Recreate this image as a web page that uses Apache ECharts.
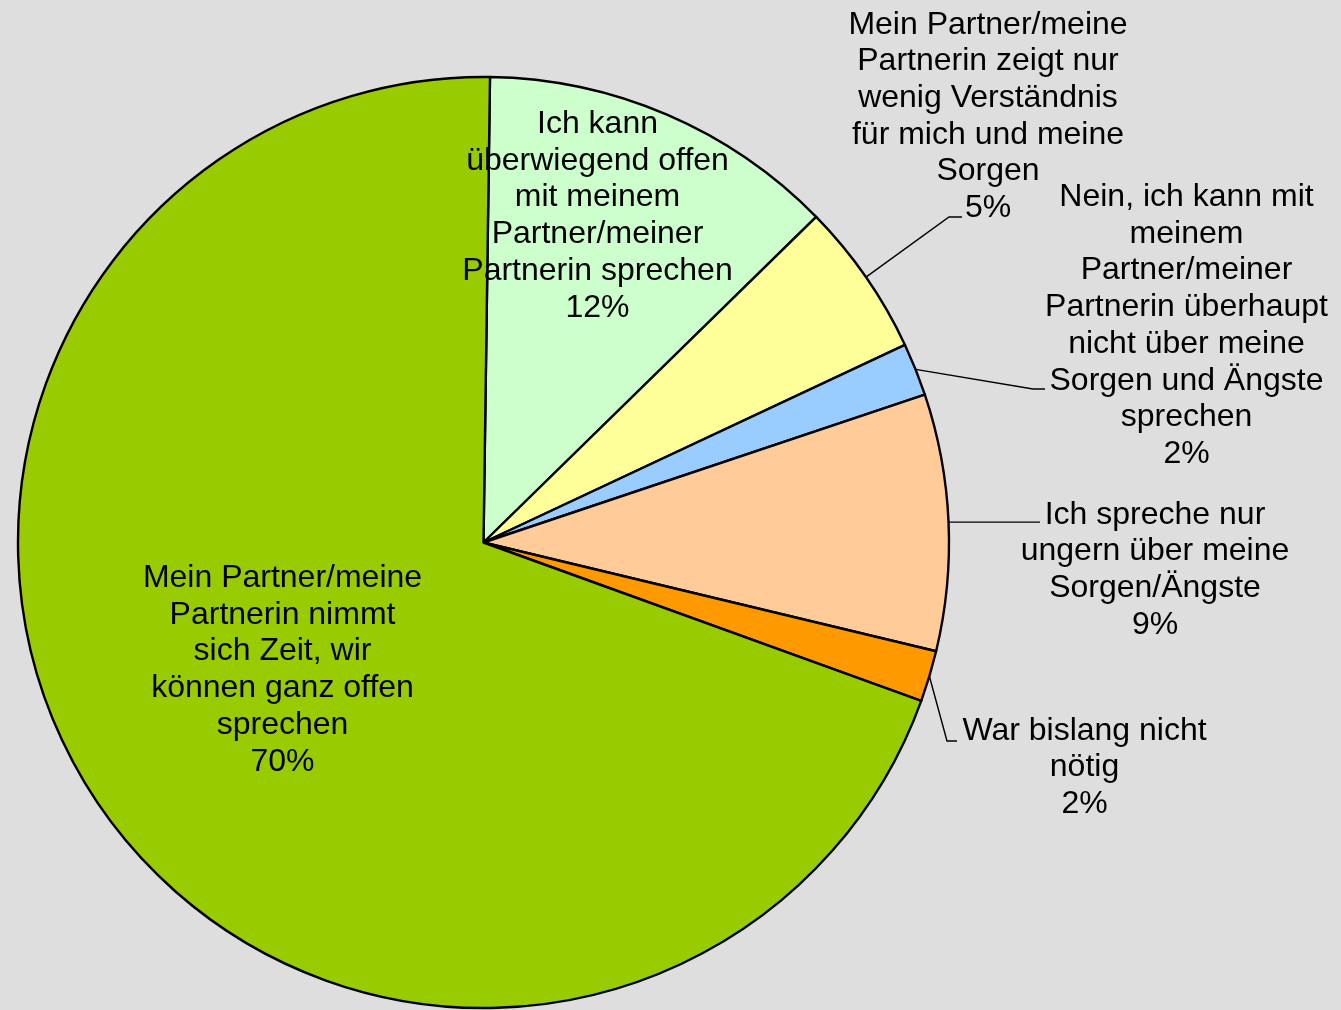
<!DOCTYPE html>
<html>
<head>
<meta charset="utf-8">
<script src="https://cdn.jsdelivr.net/npm/echarts@6/dist/echarts.min.js"></script>
<style>
  html, body { margin: 0; padding: 0; background: #dedede; }
  #chart { width: 1341px; height: 1010px; }
</style>
</head>
<body>
<div id="chart"></div>
<script>
// Answer categories (line breaks as printed in the labels)
const categories = [
  'Ich kann\nüberwiegend offen\nmit meinem\nPartner/meiner\nPartnerin sprechen',
  'Mein Partner/meine\nPartnerin zeigt nur\nwenig Verständnis\nfür mich und meine\nSorgen',
  'Nein, ich kann mit\nmeinem\nPartner/meiner\nPartnerin überhaupt\nnicht über meine\nSorgen und Ängste\nsprechen',
  'Ich spreche nur\nungern über meine\nSorgen/Ängste',
  'War bislang nicht\nnötig',
  'Mein Partner/meine\nPartnerin nimmt\nsich Zeit, wir\nkönnen ganz offen\nsprechen'
];

// Share of answers in percent
const shares = [12.45, 5.35, 1.83, 8.9, 1.77, 69.7];

const sliceColors = ['#ccffcc', '#ffff99', '#99ccff', '#ffcc99', '#ff9900', '#99cc00'];

// Pie geometry
const PIE_CENTER = [483.5, 542.5];
const PIE_RADIUS = 465.5;
const START_ANGLE = 89.2; // degrees, ECharts convention (90 = 12 o'clock)

// Where each label block sits (centre), plus leader-line bend/end for outside labels
const labelPlacement = [
  { x: 597.5,  y: 216,   inside: true },
  { x: 988,    y: 116.5, elbow: [949, 217],  end: [962, 217] },
  { x: 1186.5, y: 325.7, elbow: [1033, 389], end: [1045, 389] },
  { x: 1155,   y: 570,   elbow: null,        end: [1040, null] },
  { x: 1084.5, y: 767.5, elbow: [947, 741],  end: [957, 741] },
  { x: 282.5,  y: 670,   inside: true }
];

// Point on the outer arc in the middle of slice i
function arcMidPoint(i) {
  const total = shares.reduce((a, b) => a + b, 0);
  let before = 0;
  for (let k = 0; k < i; k++) before += shares[k];
  const clockwiseFromTop = (90 - START_ANGLE) + (before + shares[i] / 2) / total * 360;
  const rad = clockwiseFromTop * Math.PI / 180;
  return [PIE_CENTER[0] + PIE_RADIUS * Math.sin(rad), PIE_CENTER[1] - PIE_RADIUS * Math.cos(rad)];
}

const seriesData = categories.map((name, i) => {
  const inside = !!labelPlacement[i].inside;
  return {
    name: name,
    value: shares[i],
    itemStyle: { color: sliceColors[i] },
    label: { position: inside ? 'inside' : 'outside' },
    labelLine: { show: !inside }
  };
});

const chart = echarts.init(document.getElementById('chart'), null, { renderer: 'canvas' });

chart.setOption({
  backgroundColor: '#dedede',
  animation: false,
  series: [{
    type: 'pie',
    center: PIE_CENTER,
    radius: PIE_RADIUS,
    startAngle: START_ANGLE,
    clockwise: true,
    avoidLabelOverlap: false,
    percentPrecision: 0,
    silent: true,
    data: seriesData,
    itemStyle: { borderColor: '#000000', borderWidth: 2.4 },
    label: {
      show: true,
      color: '#000000',
      fontFamily: '"Liberation Sans", Arial, sans-serif',
      fontSize: 32,
      lineHeight: 36.7,
      align: 'center',
      formatter: p => p.name + '\n' + Math.round(p.percent) + '%'
    },
    labelLine: {
      show: true,
      smooth: false,
      lineStyle: { color: '#000000', width: 1.4 }
    },
    labelLayout: function (params) {
      const pl = labelPlacement[params.dataIndex];
      const out = { x: pl.x, y: pl.y, align: 'center', verticalAlign: 'middle' };
      if (!pl.inside) {
        const start = arcMidPoint(params.dataIndex);
        const pts = [start];
        if (pl.elbow) pts.push(pl.elbow);
        pts.push([pl.end[0], pl.end[1] == null ? start[1] : pl.end[1]]);
        if (pts.length === 2) pts.splice(1, 0, pts[1].slice());
        out.labelLinePoints = pts;
      }
      return out;
    }
  }]
});
</script>
</body>
</html>
